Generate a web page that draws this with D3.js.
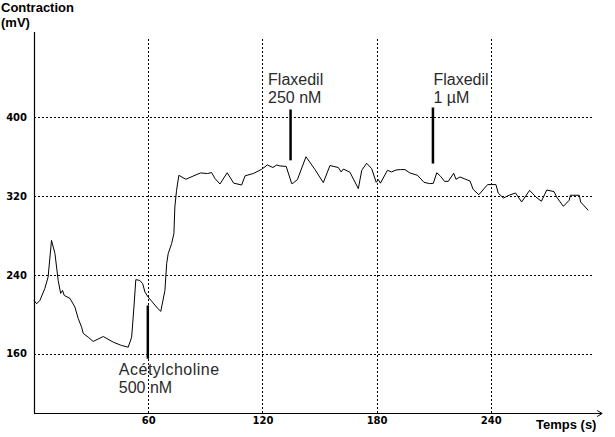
<!DOCTYPE html>
<html>
<head>
<meta charset="utf-8">
<script src="https://cdn.jsdelivr.net/npm/d3@7"></script>
<style>
  html, body { margin: 0; padding: 0; background: #fff; }
  svg { display: block; }
</style>
</head>
<body>
<svg id="chart" width="615" height="437"></svg>
<script>
// ---- Data ----
const timeS = [0, 1.4, 3.1, 5.7, 7.4, 9.2, 11.0, 12.7, 14.0, 15.0, 15.9, 18.9, 21.5, 23.2, 25.0, 25.9, 28.5, 31.1,
  36.4, 41.6, 46.0, 49.5, 51.3, 52.5, 53.5, 55.6, 57.1, 58.3, 60.0, 61.8, 64.4, 66.6, 68.8, 69.7, 70.5, 72.3, 73.5,
  74.0, 74.9, 76.1, 79.8, 83.7, 87.5, 91.2, 93.3, 95.1, 97.7, 101.5, 104.9, 109.1, 110.9, 115.2, 119.6, 122.6,
  125.5, 127.5, 129.2, 132.5, 135.4, 136.2, 138.4, 142.9, 147.6, 152.0, 155.5, 159.9, 161.4, 162.5, 166.0, 170.4,
  172.2, 174.8, 177.4, 179.8, 180.9, 182.0, 185.7, 187.9, 190.2, 192.5, 194.9, 197.5, 201.5, 204.9, 207.9, 209.8,
  211.6, 213.6, 215.7, 217.7, 220.5, 221.7, 223.8, 226.5, 229.1, 230.7, 233.7, 238.3, 242.7, 243.9, 246.6, 249.6,
  253.0, 256.2, 260.4, 263.7, 266.6, 269.4, 273.2, 274.6, 278.1, 281.2, 281.8, 286.5, 287.2, 291.2];
const contractionMV = [214.1, 210.7, 214.1, 226.2, 237.7, 274.9, 261.7, 234.3, 221.2, 224.2, 219.1, 216.1, 207.3,
  195.8, 187.0, 180.6, 176.8, 172.5, 177.5, 171.8, 168.4, 166.7, 176.8, 207.3, 235.1, 234.3, 231.0, 222.5, 217.4,
  213.3, 207.3, 202.9, 224.2, 251.3, 261.4, 271.6, 281.7, 308.7, 325.6, 340.8, 336.8, 340.1, 343.2, 342.6, 343.6,
  337.5, 332.0, 343.4, 332.9, 331.0, 340.3, 342.6, 346.9, 351.3, 348.7, 351.3, 350.3, 349.8, 332.4, 333.0, 336.5,
  359.6, 346.7, 333.4, 350.7, 348.7, 344.2, 347.2, 343.9, 327.3, 345.9, 353.0, 347.6, 333.7, 336.5, 332.8, 345.9,
  344.2, 346.2, 346.6, 346.6, 343.2, 340.8, 333.7, 332.4, 332.7, 343.4, 339.8, 334.7, 334.7, 342.9, 336.8, 339.1,
  337.0, 335.0, 326.6, 321.1, 331.4, 331.4, 322.8, 317.8, 320.6, 322.9, 313.8, 325.6, 318.8, 314.5, 325.9, 324.3,
  318.8, 309.4, 315.5, 320.6, 320.6, 313.8, 305.3];

const xTicks = [60, 120, 180, 240];
const yTicks = [160, 240, 320, 400];

// Annotations: [time, top value, bottom value]
const annotTime = [59.8, 134.8, 209.6];
const annotTop = [209, 407.5, 409.5];
const annotBottom = [155, 356, 352.7];
const annotLine1 = ["Acétylcholine", "Flaxedil", "Flaxedil"];
const annotLine2 = ["500 nM", "250 nM", "1 µM"];

const yTitle = ["Contraction", "(mV)"];
const xTitle = "Temps (s)";

// ---- Drawing ----
const svg = d3.select("#chart");
const x = d3.scaleLinear().domain([0, 300]).range([34, 605]);
const y = d3.scaleLinear().domain([100, 486]).range([413, 32]);

const grid = svg.append("g").attr("stroke", "#000").attr("stroke-width", 1).attr("stroke-dasharray", "2,2")
  .attr("shape-rendering", "crispEdges");
grid.selectAll("line.h").data(yTicks).join("line").attr("class", "h")
  .attr("x1", x(0)).attr("x2", x(293))
  .attr("y1", d => Math.round(y(d)) + 0.5).attr("y2", d => Math.round(y(d)) + 0.5);
grid.selectAll("line.v").data(xTicks).join("line").attr("class", "v")
  .attr("y1", y(479)).attr("y2", y(100))
  .attr("x1", d => Math.round(x(d)) + 0.5).attr("x2", d => Math.round(x(d)) + 0.5);

// Axes built with d3 axis generators (tick lines hidden, labels kept)
const yAxis = svg.append("g").attr("transform", `translate(${x(0)},0)`)
  .call(d3.axisLeft(y).tickValues(yTicks).tickSize(0).tickPadding(7));
yAxis.select(".domain").remove();
yAxis.selectAll("text").attr("font-family", "DejaVu Sans").attr("font-weight", "bold")
  .attr("font-size", 10).attr("fill", "#000");

const xAxis = svg.append("g").attr("transform", `translate(0,${y(100)})`)
  .call(d3.axisBottom(x).tickValues(xTicks).tickSize(0).tickPadding(4));
xAxis.select(".domain").remove();
xAxis.selectAll("text").attr("font-family", "DejaVu Sans").attr("font-weight", "bold")
  .attr("font-size", 10).attr("fill", "#000");

// Axis lines
svg.append("line").attr("x1", Math.round(x(0)) + 0.5).attr("x2", Math.round(x(0)) + 0.5)
  .attr("y1", y(486)).attr("y2", y(100)).attr("stroke", "#000").attr("stroke-width", 1.2);
svg.append("line").attr("x1", x(0)).attr("x2", x(298.5))
  .attr("y1", Math.round(y(100)) + 0.5).attr("y2", Math.round(y(100)) + 0.5)
  .attr("stroke", "#000").attr("stroke-width", 1.2);
// arrow head
svg.append("path")
  .attr("d", `M${x(298.5) - 5},${Math.round(y(100)) - 2.5} L${x(298.5)},${Math.round(y(100)) + 0.5} L${x(298.5) - 5},${Math.round(y(100)) + 3.5}`)
  .attr("fill", "none").attr("stroke", "#000").attr("stroke-width", 1);

// Curve
const line = d3.line().x((d, i) => x(timeS[i])).y((d, i) => y(contractionMV[i]));
svg.append("path").datum(contractionMV).attr("d", line)
  .attr("fill", "none").attr("stroke", "#000").attr("stroke-width", 1);

// Annotation markers
svg.selectAll("line.annot").data(annotTime).join("line").attr("class", "annot")
  .attr("x1", d => x(d)).attr("x2", d => x(d))
  .attr("y1", (d, i) => y(annotTop[i])).attr("y2", (d, i) => y(annotBottom[i]))
  .attr("stroke", "#000").attr("stroke-width", 2.5);

// Annotation labels
const labelPos = [
  { dx: -29, y1: 375, y2: 393, ls: 0.5 },
  { dx: -22.5, y1: 85, y2: 103, ls: 0 },
  { dx: 0.5, y1: 85, y2: 103, ls: 0 }
];
annotTime.forEach((t, i) => {
  const g = svg.append("text").attr("font-family", "Liberation Sans, Arial, sans-serif")
    .attr("font-size", 16).attr("fill", "#2a2a2a");
  g.append("tspan").attr("x", x(t) + labelPos[i].dx).attr("y", labelPos[i].y1)
    .attr("letter-spacing", labelPos[i].ls).text(annotLine1[i]);
  g.append("tspan").attr("x", x(t) + labelPos[i].dx).attr("y", labelPos[i].y2).text(annotLine2[i]);
});

// Axis titles
const yt = svg.append("text").attr("font-family", "Liberation Sans, Arial, sans-serif")
  .attr("font-weight", "bold").attr("font-size", 13).attr("fill", "#000");
yt.append("tspan").attr("x", 1).attr("y", 12).text(yTitle[0]);
yt.append("tspan").attr("x", 1).attr("y", 27).text(yTitle[1]);

svg.append("text").attr("font-family", "Liberation Sans, Arial, sans-serif")
  .attr("font-weight", "bold").attr("font-size", 13).attr("fill", "#000")
  .attr("x", 536).attr("y", 429).text(xTitle);
</script>
</body>
</html>
